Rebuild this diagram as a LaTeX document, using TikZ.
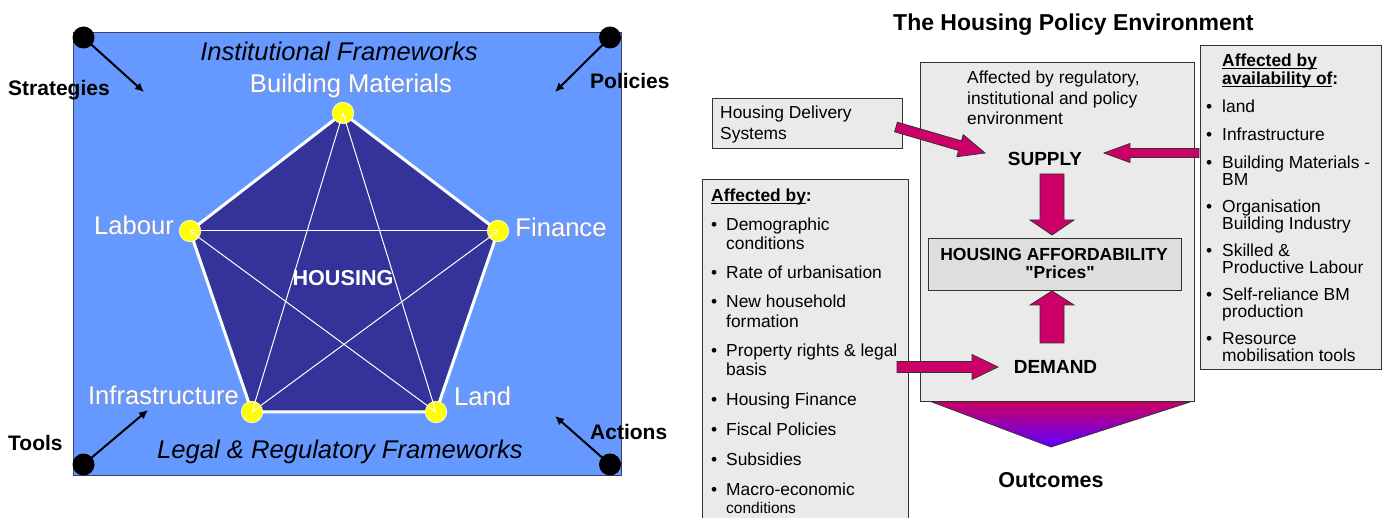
\documentclass[tikz,border=0pt]{standalone}
\usepackage{fontspec}
\setmainfont{Liberation Sans}[Ligatures=TeXOff]
\usetikzlibrary{calc,arrows.meta}

\definecolor{panelblue}{HTML}{6699FF}
\definecolor{pentblue}{HTML}{333399}
\definecolor{dotyellow}{HTML}{FFFF00}
\definecolor{arrowmag}{HTML}{CC0066}
\definecolor{funnelblue}{HTML}{5E00FF}
\definecolor{boxgrey}{HTML}{EAEAEA}
\definecolor{boxgreydark}{HTML}{DEDEDE}
\definecolor{edgegrey}{HTML}{333333}
\definecolor{frameedge}{HTML}{3A4066}
\definecolor{shadowgrey}{HTML}{8A93B8}

\newcommand\fsz[1]{\fontsize{#1}{#1}\selectfont}
% underline with a visible rule
\newcommand\ulin[1]{\setbox0\hbox{#1}\rlap{\rule[-2.4pt]{\wd0}{1.3pt}}\box0}

% block arrow: name, start, tip, shaft half-width, head half-width, head length
\newcommand\fatarrow[6]{%
  \coordinate (#1-b) at ($(#3)!#6!(#2)$);
  \coordinate (#1-s1) at ($(#2)!#4!90:(#3)$);
  \coordinate (#1-s2) at ($(#2)!#4!-90:(#3)$);
  \coordinate (#1-t1) at ($(#1-b)!#4!90:(#3)$);
  \coordinate (#1-t2) at ($(#1-b)!#4!-90:(#3)$);
  \coordinate (#1-h1) at ($(#1-b)!#5!90:(#3)$);
  \coordinate (#1-h2) at ($(#1-b)!#5!-90:(#3)$);
  \draw[blockarrow] (#1-s1) -- (#1-t1) -- (#1-h1) -- (#3) -- (#1-h2) -- (#1-t2) -- (#1-s2) -- cycle;
}

% bulleted line: name, bullet x, baseline y, text x, text
\newcommand\bline[5]{%
  \node[bodytxt, anchor=base west] (#1-dot) at (#2,#3) {\textbullet};
  \node[bodytxt, anchor=base west] (#1) at (#4,#3) {#5};
}
% continuation line: name, x, baseline y, text
\newcommand\contline[4]{%
  \node[bodytxt, anchor=base west] (#1) at (#2,#3) {#4};
}

\begin{document}
\begin{tikzpicture}[x=1pt,y=-1pt,
  panelbox/.style={draw=frameedge, line width=1pt, fill=panelblue, inner sep=0pt, anchor=north west},
  greybox/.style={draw=edgegrey, line width=0.9pt, fill=boxgrey, inner sep=0pt, anchor=north west},
  ydot/.style={circle, fill=dotyellow, draw=white, line width=0.6pt, minimum size=21.5pt, inner sep=0pt},
  cdot/.style={circle, fill=black, minimum size=22pt, inner sep=0pt},
  cornerarrow/.style={black, line width=2pt, -{Latex[length=9pt,width=8.5pt]}},
  cornerlbl/.style={inner sep=0pt, anchor=base west, font=\fsz{21}\bfseries},
  framelbl/.style={inner sep=0pt, anchor=base, font=\fsz{25.6}\itshape},
  vertexlbl/.style={inner sep=0pt, font=\fsz{25.6}, text=white},
  vertexshadow/.style={inner sep=0pt, font=\fsz{25.6}, text=shadowgrey},
  blockarrow/.style={fill=arrowmag, draw=edgegrey, line width=0.8pt, line join=miter},
  bodytxt/.style={inner sep=0pt, font=\fsz{17.4}},
  headtxt/.style={inner sep=0pt, font=\fsz{17.4}\bfseries},
  keytxt/.style={inner sep=0pt, anchor=base, font=\fsz{19}\bfseries}]

\useasboundingbox (0,0) rectangle (1382,518);
\clip (0,0) rectangle (1382,518);
\fill[white] (0,0) rectangle (1382,518);

% ---------------- left panel: the housing pentagon ----------------
\node[panelbox, minimum width=548pt, minimum height=443pt] (panel) at (73,32) {};

\coordinate (vBM) at (343,113);
\coordinate (vFin) at (498,231);
\coordinate (vLand) at (436,412);
\coordinate (vInf) at (252,412);
\coordinate (vLab) at (190,231);

\fill[pentblue] (vBM) -- (vFin) -- (vLand) -- (vInf) -- (vLab) -- cycle;
\draw[white, line width=3pt, line join=round] (vBM) -- (vFin) -- (vLand) -- (vInf) -- (vLab) -- cycle;

\node[ydot] (dBM) at (vBM) {};
\node[ydot] (dFin) at (vFin) {};
\node[ydot] (dLand) at (vLand) {};
\node[ydot] (dInf) at (vInf) {};
\node[ydot] (dLab) at (vLab) {};

\draw[white, line width=1pt] (dBM.center) -- (dLand.center);
\draw[white, line width=1pt] (dBM.center) -- (dInf.center);
\draw[white, line width=1pt] (dLab.center) -- (dFin.center);
\draw[white, line width=1pt] (dLab.center) -- (dLand.center);
\draw[white, line width=1pt] (dFin.center) -- (dInf.center);

\node[inner sep=0pt, anchor=base, font=\fsz{21.6}\bfseries, text=white] (housing) at (343,286) {HOUSING};

% vertex labels with a soft shadow
\node[vertexshadow, anchor=base] (sBM) at (352,94) {Building Materials};
\node[vertexlbl, anchor=base] (tBM) at (351,93) {Building Materials};
\node[vertexshadow, anchor=base] (sLab) at (135,235.5) {Labour};
\node[vertexlbl, anchor=base] (tLab) at (134,234.5) {Labour};
\node[vertexshadow, anchor=base] (sFin) at (562,238) {Finance};
\node[vertexlbl, anchor=base] (tFin) at (561,237) {Finance};
\node[vertexshadow, anchor=base] (sInf) at (164.5,406) {Infrastructure};
\node[vertexlbl, anchor=base] (tInf) at (163.5,405) {Infrastructure};
\node[vertexshadow, anchor=base west] (sLand) at (455,407) {Land};
\node[vertexlbl, anchor=base west] (tLand) at (454,406) {Land};

\node[framelbl] (inst) at (339,61) {Institutional Frameworks};
\node[framelbl] (legal) at (340,459) {Legal \& Regulatory Frameworks};

% corner markers
\node[cdot] (cStrat) at (83.5,37.5) {};
\node[cdot] (cPol) at (610,37.5) {};
\node[cdot] (cTools) at (83.5,464.5) {};
\node[cdot] (cAct) at (610,464.5) {};

\coordinate (tStrat) at (144,92);
\coordinate (tPol) at (555,92);
\coordinate (tTools) at (148,410);
\coordinate (tAct) at (555,416);

\draw[cornerarrow] (cStrat.center) -- (tStrat);
\draw[cornerarrow] (cPol.center) -- (tPol);
\draw[cornerarrow] (cTools.center) -- (tTools);
\draw[cornerarrow] (cAct.center) -- (tAct);

\node[cornerlbl] (lStrat) at (8,96) {Strategies};
\node[cornerlbl] (lPol) at (590,89) {Policies};
\node[cornerlbl] (lTools) at (8,451) {Tools};
\node[cornerlbl] (lAct) at (590,440) {Actions};

% ---------------- right panel: the housing policy environment ----------------
\node[inner sep=0pt, anchor=base west, font=\fsz{23}\bfseries] (title) at (893,31) {The Housing Policy Environment};

\node[greybox, minimum width=206pt, minimum height=352pt] (demandbox) at (702,179) {};
\node[greybox, minimum width=274pt, minimum height=339pt] (envbox) at (920,62) {};
\node[greybox, minimum width=181pt, minimum height=324pt] (supplybox) at (1200,45) {};
\node[greybox, minimum width=190pt, minimum height=50pt] (hds) at (712,98) {};
\node[greybox, fill=boxgreydark, minimum width=253pt, minimum height=52pt] (afford) at (928,238) {};

% funnel below the environment box
\coordinate (fL) at (932,402);
\coordinate (fR) at (1190,402);
\coordinate (fT) at (1051,447);
\path[top color=arrowmag, bottom color=funnelblue, draw=edgegrey, line width=0.8pt] (fL) -- (fR) -- (fT) -- cycle;

% texts in the environment box
\node[bodytxt, anchor=base west] (env1) at (967,84) {Affected by regulatory,};
\node[bodytxt, anchor=base west] (env2) at (967,104.5) {institutional and policy};
\node[bodytxt, anchor=base west] (env3) at (967,125) {environment};
\node[keytxt] (supply) at (1045,166) {SUPPLY};
\node[keytxt] (demand) at (1055.5,374) {DEMAND};
\node[inner sep=0pt, anchor=base, font=\fsz{17.5}\bfseries] (aff1) at (1054,261) {HOUSING AFFORDABILITY};
\node[inner sep=0pt, anchor=base, font=\fsz{17.5}\bfseries] (aff2) at (1060,279) {"Prices"};
\node[inner sep=0pt, anchor=base, font=\fsz{21.5}\bfseries] (outcomes) at (1051,487) {Outcomes};

% housing delivery systems
\node[bodytxt, anchor=base west] (hds1) at (720,119) {Housing Delivery};
\node[bodytxt, anchor=base west] (hds2) at (720,139.5) {Systems};

% demand-side factors
\node[headtxt, anchor=base west] (dhead) at (711,201.5) {\ulin{Affected by}:};
\bline{d1}{711}{231}{726}{Demographic}
\contline{d1b}{726}{250}{conditions}
\bline{d2}{711}{279}{726}{Rate of urbanisation}
\bline{d3}{711}{308}{726}{New household}
\contline{d3b}{726}{327.5}{formation}
\bline{d4}{711}{357}{726}{Property rights \& legal}
\contline{d4b}{726}{376}{basis}
\bline{d5}{711}{406}{726}{Housing Finance}
\bline{d6}{711}{436}{726}{Fiscal Policies}
\bline{d7}{711}{465.5}{726}{Subsidies}
\bline{d8}{711}{495}{726}{Macro-economic}
\node[inner sep=0pt, anchor=base west, font=\fsz{15.5}] (d8b) at (726,513) {conditions};

% supply-side factors
\node[headtxt, anchor=base west] (shead1) at (1222,66.5) {\ulin{Affected by}};
\node[headtxt, anchor=base west] (shead2) at (1222,85) {\ulin{availability of}:};
\bline{s1}{1206}{113}{1222}{land}
\bline{s2}{1206}{141}{1222}{Infrastructure}
\bline{s3}{1206}{169}{1222}{Building Materials -}
\contline{s3b}{1222}{185.5}{BM}
\bline{s4}{1206}{213}{1222}{Organisation}
\contline{s4b}{1222}{229.5}{Building Industry}
\bline{s5}{1206}{257}{1222}{Skilled \&}
\contline{s5b}{1222}{273.5}{Productive Labour}
\bline{s6}{1206}{301}{1222}{Self-reliance BM}
\contline{s6b}{1222}{317.5}{production}
\bline{s7}{1206}{345}{1222}{Resource}
\contline{s7b}{1222}{361.5}{mobilisation tools}

% block arrows
\coordinate (hdsOut) at (896,127);
\coordinate (supplyIn) at (985,153);
\fatarrow{aHDS}{hdsOut}{supplyIn}{5pt}{11.5pt}{26pt}

\coordinate (availOut) at (1199,153);
\coordinate (supplyInR) at (1104,153);
\fatarrow{aAvail}{availOut}{supplyInR}{4.5pt}{9.5pt}{26pt}

\coordinate (factorsOut) at (897,367);
\coordinate (demandIn) at (998,367);
\fatarrow{aFactors}{factorsOut}{demandIn}{5.5pt}{12.5pt}{26pt}

\coordinate (supplyDown) at (1052,174);
\coordinate (affordTop) at (1052,235);
\fatarrow{aDown}{supplyDown}{affordTop}{12pt}{22pt}{15pt}

\coordinate (demandUp) at (1052,343);
\coordinate (affordBottom) at (1052,291);
\fatarrow{aUp}{demandUp}{affordBottom}{12pt}{22pt}{14pt}

\end{tikzpicture}
\end{document}
